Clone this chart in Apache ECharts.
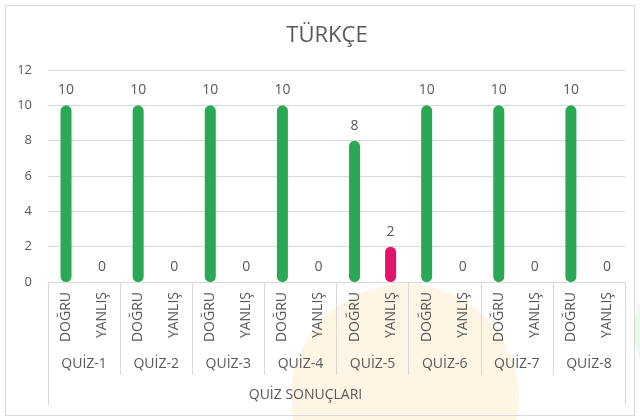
<!DOCTYPE html>
<html>
<head>
<meta charset="utf-8">
<script src="https://cdn.jsdelivr.net/npm/echarts@6/dist/echarts.min.js"></script>
<style>
  html, body { margin: 0; padding: 0; background: #fff; }
  #chart { width: 640px; height: 420px; }
</style>
</head>
<body>
<div id="chart"></div>
<script>
// veriler
const quizzes = ['QUİZ-1', 'QUİZ-2', 'QUİZ-3', 'QUİZ-4', 'QUİZ-5', 'QUİZ-6', 'QUİZ-7', 'QUİZ-8'];
const answerTypes = ['DOĞRU', 'YANLIŞ'];
const dogru = [10, 10, 10, 10, 8, 10, 10, 10];
const yanlis = [0, 0, 0, 0, 2, 0, 0, 0];
const yTicks = [0, 2, 4, 6, 8, 10, 12];
const groupTitle = 'QUİZ SONUÇLARI';

const GREEN = '#2aa853';
const RED = '#e2136b';
const TEXT = '#595959';
const LINE = '#d9d9d9';
const FONT = '"Open Sans", sans-serif';

// 16 kategori: her quiz için DOĞRU + YANLIŞ
const labels = [];
const values = [];
quizzes.forEach((q, i) => {
  labels.push(answerTypes[0], answerTypes[1]);
  values.push({ value: dogru[i], itemStyle: { color: GREEN } });
  values.push({ value: yanlis[i], itemStyle: { color: RED } });
});

const chart = echarts.init(document.getElementById('chart'));
chart.setOption({
  animation: false,
  backgroundColor: '#fff',
  textStyle: { fontFamily: FONT },
  title: {
    text: 'TÜRKÇE',
    left: 322,
    top: 20,
    textAlign: 'center',
    textStyle: { color: TEXT, fontSize: 22, fontWeight: 'normal', fontFamily: FONT }
  },
  graphic: [
    { type: 'circle', z: -10, shape: { cx: 405, cy: 398, r: 114 }, style: { fill: '#fef5e4' } },
    { type: 'circle', z: -10, shape: { cx: 706, cy: 330, r: 72 }, style: { fill: '#eef7ee' } },
    { type: 'rect', z: -5, shape: { x: 5.5, y: 5.5, width: 629, height: 410 },
      style: { fill: 'none', stroke: LINE, lineWidth: 1 } }
  ],
  grid: { left: 48, right: 15, top: 70, bottom: 138 },
  yAxis: {
    type: 'value',
    min: yTicks[0],
    max: yTicks[yTicks.length - 1],
    interval: 2,
    axisLine: { show: false },
    axisTick: { show: false },
    axisLabel: { color: TEXT, fontSize: 13, margin: 16, fontFamily: FONT },
    splitLine: { lineStyle: { color: LINE } }
  },
  xAxis: [
    {
      type: 'category',
      data: labels,
      position: 'bottom',
      axisLine: { lineStyle: { color: LINE } },
      axisTick: { show: false },
      axisLabel: { rotate: 90, interval: 0, color: TEXT, fontSize: 14, margin: 10, fontFamily: FONT }
    },
    {
      type: 'category',
      data: quizzes,
      position: 'bottom',
      axisLine: { show: false },
      axisTick: { show: true, length: 93, lineStyle: { color: LINE } },
      axisLabel: { interval: 0, color: TEXT, fontSize: 14, margin: 75, fontFamily: FONT }
    },
    {
      type: 'category',
      data: [groupTitle],
      position: 'bottom',
      axisLine: { show: false },
      axisTick: { show: true, length: 123, lineStyle: { color: LINE } },
      axisLabel: { color: TEXT, fontSize: 14, margin: 106, padding: [0, 62, 0, 0], fontFamily: FONT }
    }
  ],
  series: [{
    type: 'bar',
    xAxisIndex: 0,
    data: values,
    barWidth: 11,
    itemStyle: { borderRadius: 5.5 },
    label: {
      show: true,
      position: 'top',
      distance: 8,
      color: TEXT,
      fontSize: 14,
      fontFamily: FONT
    }
  }]
});
</script>
</body>
</html>
